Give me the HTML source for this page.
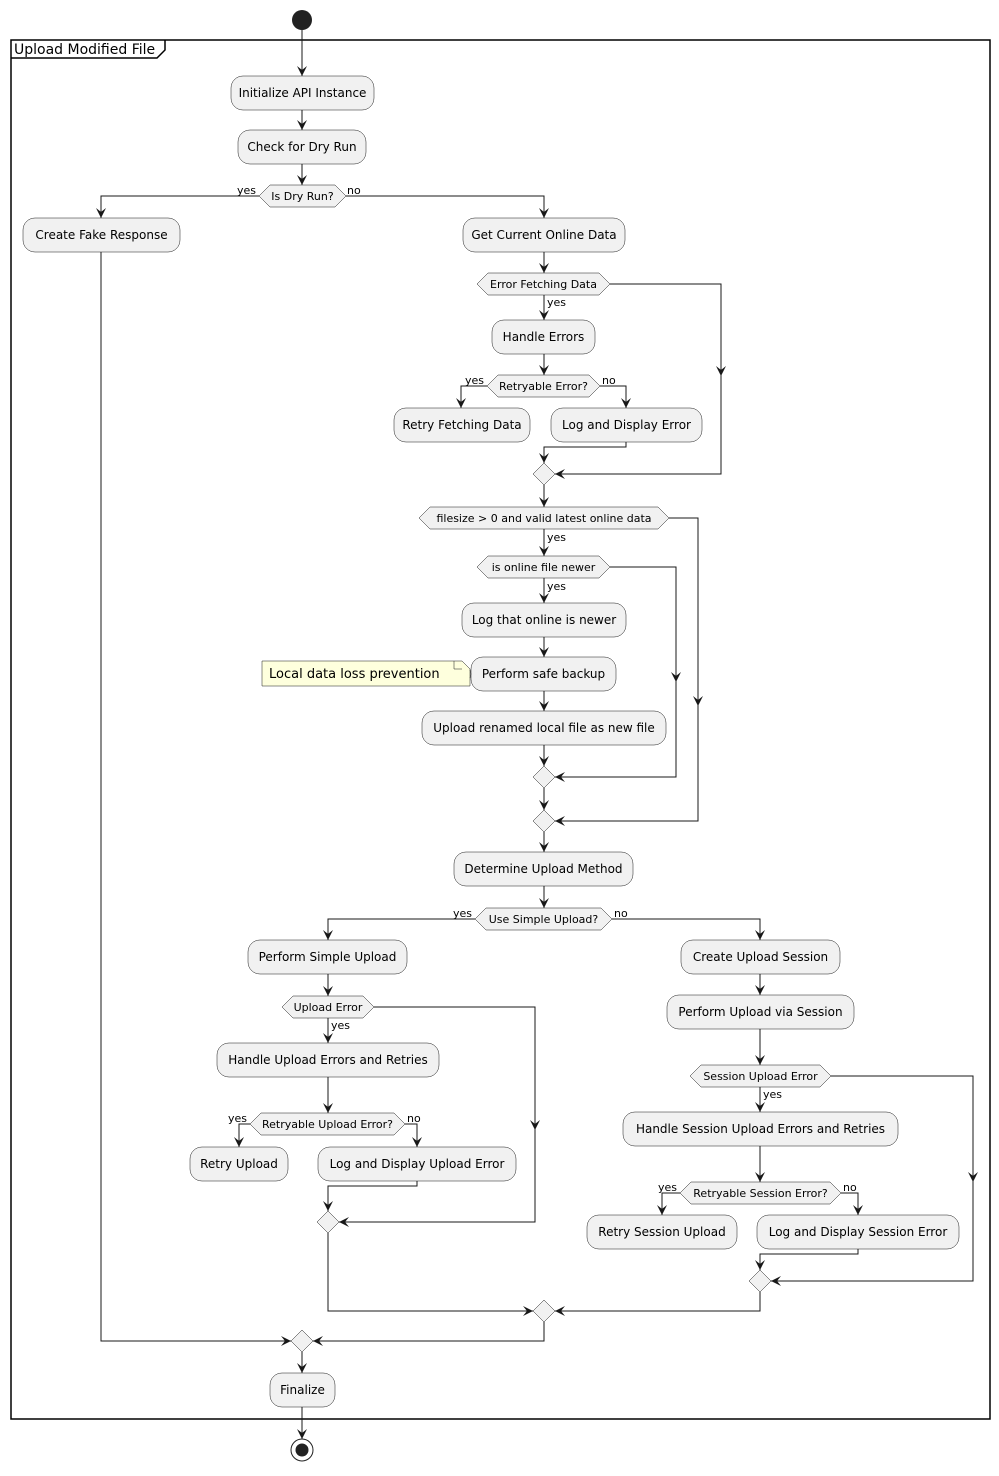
<!DOCTYPE html>
<html><head><meta charset="utf-8"><style>
html,body{margin:0;padding:0;background:#fff}
svg text{font-family:"DejaVu Sans","Liberation Sans",sans-serif;fill:#000}
.a{fill:#F1F1F1;stroke:#181818;stroke-width:0.5}
.t{font-size:12px}
.h{font-size:11px}
.l{font-size:11px}
.ln{fill:none;stroke:#181818;stroke-width:1}
</style></head><body>
<svg width="999" height="1471" viewBox="0 0 999 1471" xmlns="http://www.w3.org/2000/svg">
<defs><marker id="ar" markerUnits="userSpaceOnUse" markerWidth="11" markerHeight="10" refX="10" refY="5" orient="auto"><path d="M0,0 L10,5 L0,10 L4,5 z" fill="#181818"/></marker></defs>
<circle cx="302" cy="20" r="10" fill="#222"/>
<rect x="11" y="40" width="979" height="1379" fill="none" stroke="#000" stroke-width="1.5"/>
<path d="M11,58 L157,58 L165,50 L165,40" fill="none" stroke="#000" stroke-width="1.5"/>
<text x="14" y="54" style="font-size:14px">Upload Modified File</text>

<g class="ln">
<polyline points="302,30 302,76" marker-end="url(#ar)"/>
<polyline points="302,110 302,130" marker-end="url(#ar)"/>
<polyline points="302,164 302,185" marker-end="url(#ar)"/>
<polyline points="259,196 101,196 101,218" marker-end="url(#ar)"/>
<polyline points="346,196 544,196 544,218" marker-end="url(#ar)"/>
<polyline points="544,252 544,273" marker-end="url(#ar)"/>
<polyline points="544,295 544,320" marker-end="url(#ar)"/>
<polyline points="610,284 721,284 721,376" marker-end="url(#ar)"/>
<polyline points="721,370 721,474 555,474" marker-end="url(#ar)"/>
<polyline points="544,354 544,375" marker-end="url(#ar)"/>
<polyline points="487,386 461,386 461,408" marker-end="url(#ar)"/>
<polyline points="600,386 626,386 626,408" marker-end="url(#ar)"/>
<polyline points="626,442 626,447 544,447 544,463" marker-end="url(#ar)"/>
<polyline points="544,485 544,507" marker-end="url(#ar)"/>
<polyline points="544,529 544,556" marker-end="url(#ar)"/>
<polyline points="669,518 698,518 698,706" marker-end="url(#ar)"/>
<polyline points="698,700 698,821 555,821" marker-end="url(#ar)"/>
<polyline points="610,567 676,567 676,682" marker-end="url(#ar)"/>
<polyline points="676,676 676,777 555,777" marker-end="url(#ar)"/>
<polyline points="544,578 544,603" marker-end="url(#ar)"/>
<polyline points="544,637 544,657" marker-end="url(#ar)"/>
<polyline points="544,691 544,711" marker-end="url(#ar)"/>
<polyline points="544,745 544,766" marker-end="url(#ar)"/>
<polyline points="544,788 544,810" marker-end="url(#ar)"/>
<polyline points="544,832 544,852" marker-end="url(#ar)"/>
<polyline points="544,886 544,908" marker-end="url(#ar)"/>
<polyline points="475,919 328,919 328,940" marker-end="url(#ar)"/>
<polyline points="612,919 760,919 760,940" marker-end="url(#ar)"/>
<polyline points="328,974 328,996" marker-end="url(#ar)"/>
<polyline points="328,1018 328,1043" marker-end="url(#ar)"/>
<polyline points="374,1007 535,1007 535,1130" marker-end="url(#ar)"/>
<polyline points="535,1124 535,1222 339,1222" marker-end="url(#ar)"/>
<polyline points="328,1077 328,1113" marker-end="url(#ar)"/>
<polyline points="250,1124 239,1124 239,1147" marker-end="url(#ar)"/>
<polyline points="405,1124 417,1124 417,1147" marker-end="url(#ar)"/>
<polyline points="417,1181 417,1186 328,1186 328,1211" marker-end="url(#ar)"/>
<polyline points="328,1233 328,1311 533,1311" marker-end="url(#ar)"/>
<polyline points="760,974 760,995" marker-end="url(#ar)"/>
<polyline points="760,1029 760,1065" marker-end="url(#ar)"/>
<polyline points="760,1087 760,1112" marker-end="url(#ar)"/>
<polyline points="831,1076 973,1076 973,1182" marker-end="url(#ar)"/>
<polyline points="973,1176 973,1281 771,1281" marker-end="url(#ar)"/>
<polyline points="760,1146 760,1182" marker-end="url(#ar)"/>
<polyline points="680,1193 662,1193 662,1215" marker-end="url(#ar)"/>
<polyline points="841,1193 858,1193 858,1215" marker-end="url(#ar)"/>
<polyline points="858,1249 858,1254 760,1254 760,1270" marker-end="url(#ar)"/>
<polyline points="760,1292 760,1311 555,1311" marker-end="url(#ar)"/>
<polyline points="544,1322 544,1341 313,1341" marker-end="url(#ar)"/>
<polyline points="101,252 101,1341 291,1341" marker-end="url(#ar)"/>
<polyline points="302,1352 302,1373" marker-end="url(#ar)"/>
<polyline points="302,1407 302,1439" marker-end="url(#ar)"/>
</g>

<!-- activities -->
<rect class="a" x="231" y="76" width="143" height="34" rx="12"/><text class="t" x="302.5" y="97" text-anchor="middle">Initialize API Instance</text>
<rect class="a" x="238" y="130" width="128" height="34" rx="12"/><text class="t" x="302" y="151" text-anchor="middle">Check for Dry Run</text>
<rect class="a" x="23" y="218" width="157" height="34" rx="12"/><text class="t" x="101.5" y="239" text-anchor="middle">Create Fake Response</text>
<rect class="a" x="463" y="218" width="162" height="34" rx="12"/><text class="t" x="544" y="239" text-anchor="middle">Get Current Online Data</text>
<rect class="a" x="492" y="320" width="103" height="34" rx="12"/><text class="t" x="543.5" y="341" text-anchor="middle">Handle Errors</text>
<rect class="a" x="394" y="408" width="136" height="34" rx="12"/><text class="t" x="462" y="429" text-anchor="middle">Retry Fetching Data</text>
<rect class="a" x="551" y="408" width="151" height="34" rx="12"/><text class="t" x="626.5" y="429" text-anchor="middle">Log and Display Error</text>
<rect class="a" x="462" y="603" width="164" height="34" rx="12"/><text class="t" x="544" y="624" text-anchor="middle">Log that online is newer</text>
<rect class="a" x="471" y="657" width="145" height="34" rx="12"/><text class="t" x="543.5" y="678" text-anchor="middle">Perform safe backup</text>
<rect class="a" x="422" y="711" width="244" height="34" rx="12"/><text class="t" x="544" y="732" text-anchor="middle">Upload renamed local file as new file</text>
<rect class="a" x="454" y="852" width="179" height="34" rx="12"/><text class="t" x="543.5" y="873" text-anchor="middle">Determine Upload Method</text>
<rect class="a" x="248" y="940" width="159" height="34" rx="12"/><text class="t" x="327.5" y="961" text-anchor="middle">Perform Simple Upload</text>
<rect class="a" x="217" y="1043" width="222" height="34" rx="12"/><text class="t" x="328" y="1064" text-anchor="middle">Handle Upload Errors and Retries</text>
<rect class="a" x="190" y="1147" width="98" height="34" rx="12"/><text class="t" x="239" y="1168" text-anchor="middle">Retry Upload</text>
<rect class="a" x="318" y="1147" width="198" height="34" rx="12"/><text class="t" x="417" y="1168" text-anchor="middle">Log and Display Upload Error</text>
<rect class="a" x="681" y="940" width="159" height="34" rx="12"/><text class="t" x="760.5" y="961" text-anchor="middle">Create Upload Session</text>
<rect class="a" x="667" y="995" width="187" height="34" rx="12"/><text class="t" x="760.5" y="1016" text-anchor="middle">Perform Upload via Session</text>
<rect class="a" x="623" y="1112" width="275" height="34" rx="12"/><text class="t" x="760.5" y="1133" text-anchor="middle">Handle Session Upload Errors and Retries</text>
<rect class="a" x="587" y="1215" width="150" height="34" rx="12"/><text class="t" x="662" y="1236" text-anchor="middle">Retry Session Upload</text>
<rect class="a" x="757" y="1215" width="202" height="34" rx="12"/><text class="t" x="858" y="1236" text-anchor="middle">Log and Display Session Error</text>
<rect class="a" x="270" y="1373" width="65" height="34" rx="12"/><text class="t" x="302.5" y="1394" text-anchor="middle">Finalize</text>

<!-- note -->
<path d="M262,661 L462,661 L470,669 L470,686 L262,686 Z" fill="#FEFFDD" stroke="#181818" stroke-width="0.5"/>
<path d="M454,661 L454,669 L462,669" fill="none" stroke="#181818" stroke-width="0.5"/>
<path d="M470,670 L471,674 L470,678" fill="none" stroke="#181818" stroke-width="0.5"/>
<text x="269" y="678" style="font-size:13px">Local data loss prevention</text>

<!-- hexagons -->
<polygon class="a" points="259,196 270,185 335,185 346,196 335,207 270,207"/><text class="h" x="302.5" y="200" text-anchor="middle">Is Dry Run?</text>
<polygon class="a" points="477,284 488,273 599,273 610,284 599,295 488,295"/><text class="h" x="543.5" y="288" text-anchor="middle">Error Fetching Data</text>
<polygon class="a" points="487,386 498,375 589,375 600,386 589,397 498,397"/><text class="h" x="543.5" y="390" text-anchor="middle">Retryable Error?</text>
<polygon class="a" points="419,518 430,507 658,507 669,518 658,529 430,529"/><text class="h" x="544" y="522" text-anchor="middle">filesize &gt; 0 and valid latest online data</text>
<polygon class="a" points="477,567 488,556 599,556 610,567 599,578 488,578"/><text class="h" x="543.5" y="571" text-anchor="middle">is online file newer</text>
<polygon class="a" points="475,919 486,908 601,908 612,919 601,930 486,930"/><text class="h" x="543.5" y="923" text-anchor="middle">Use Simple Upload?</text>
<polygon class="a" points="282,1007 293,996 363,996 374,1007 363,1018 293,1018"/><text class="h" x="328" y="1011" text-anchor="middle">Upload Error</text>
<polygon class="a" points="250,1124 261,1113 394,1113 405,1124 394,1135 261,1135"/><text class="h" x="327.5" y="1128" text-anchor="middle">Retryable Upload Error?</text>
<polygon class="a" points="690,1076 701,1065 820,1065 831,1076 820,1087 701,1087"/><text class="h" x="760.5" y="1080" text-anchor="middle">Session Upload Error</text>
<polygon class="a" points="680,1193 691,1182 830,1182 841,1193 830,1204 691,1204"/><text class="h" x="760.5" y="1197" text-anchor="middle">Retryable Session Error?</text>

<!-- merge diamonds -->
<polygon class="a" points="544,463 555,474 544,485 533,474"/>
<polygon class="a" points="544,766 555,777 544,788 533,777"/>
<polygon class="a" points="544,810 555,821 544,832 533,821"/>
<polygon class="a" points="328,1211 339,1222 328,1233 317,1222"/>
<polygon class="a" points="760,1270 771,1281 760,1292 749,1281"/>
<polygon class="a" points="544,1300 555,1311 544,1322 533,1311"/>
<polygon class="a" points="302,1330 313,1341 302,1352 291,1341"/>

<!-- labels -->
<g class="l">
<text x="237" y="194">yes</text><text x="347" y="194">no</text>
<text x="547" y="306">yes</text>
<text x="465" y="384">yes</text><text x="602" y="384">no</text>
<text x="547" y="541">yes</text>
<text x="547" y="590">yes</text>
<text x="453" y="917">yes</text><text x="614" y="917">no</text>
<text x="331" y="1029">yes</text>
<text x="228" y="1122">yes</text><text x="407" y="1122">no</text>
<text x="763" y="1098">yes</text>
<text x="658" y="1191">yes</text><text x="843" y="1191">no</text>
</g>

<circle cx="302" cy="1450" r="11" fill="none" stroke="#222" stroke-width="1"/>
<circle cx="302" cy="1450" r="6.5" fill="#222"/>
</svg>
</body></html>
